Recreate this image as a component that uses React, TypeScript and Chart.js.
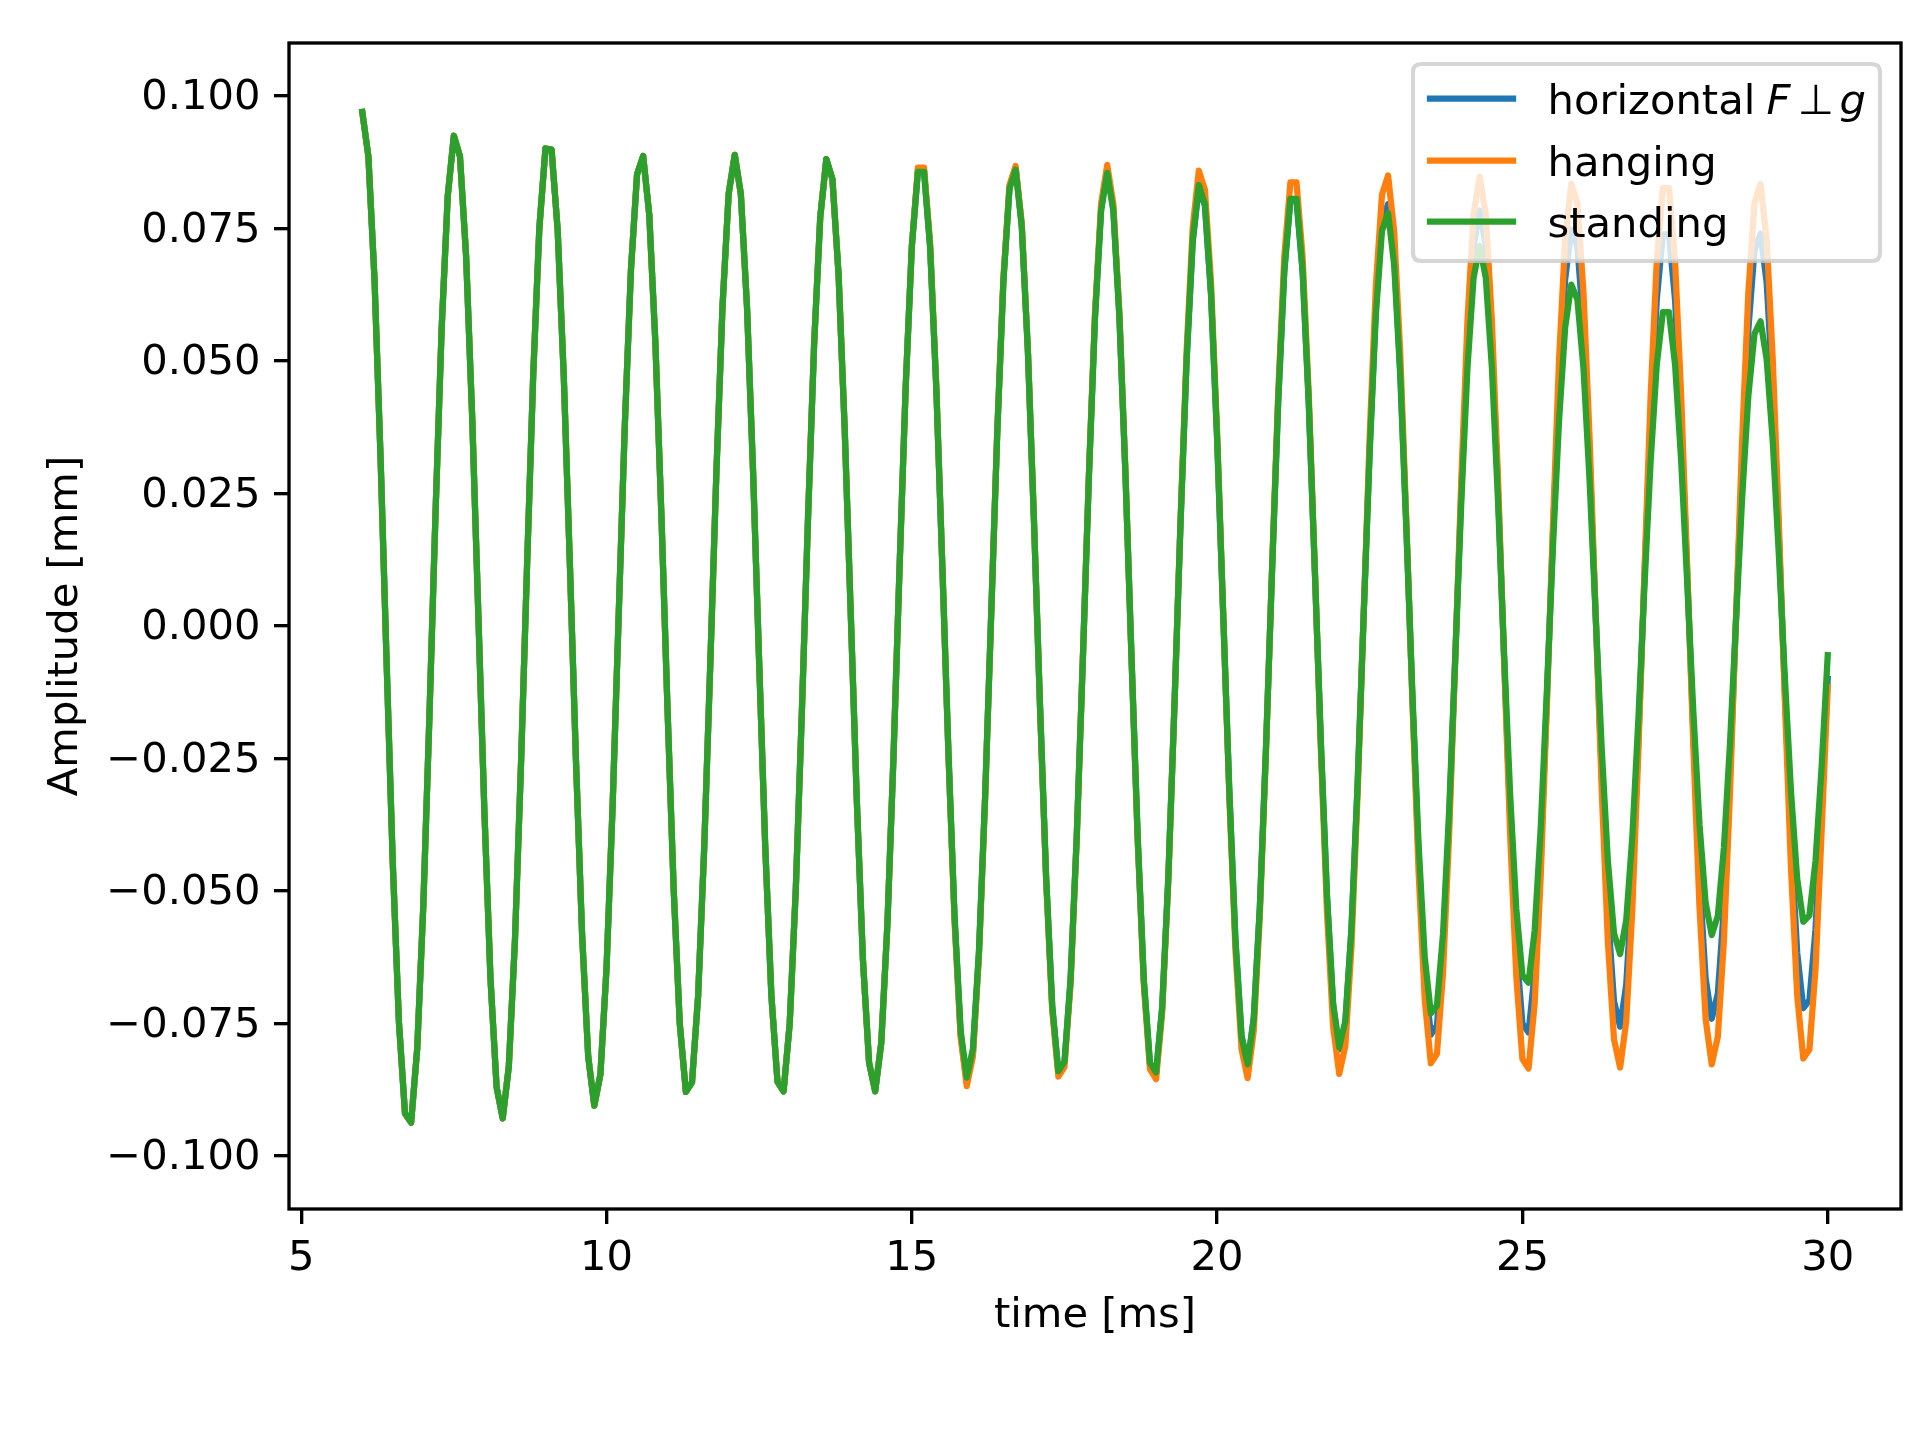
import { useEffect, useRef } from "react";
import { Chart, registerables } from "chart.js";

Chart.register(...registerables);

// time axis [ms], 0.1 ms sampling
const timeMs = [
  6.0, 6.1, 6.2, 6.3, 6.4, 6.5, 6.6, 6.7, 6.8, 6.9,
  7.0, 7.1, 7.2, 7.3, 7.4, 7.5, 7.6, 7.7, 7.8, 7.9,
  8.0, 8.1, 8.2, 8.3, 8.4, 8.5, 8.6, 8.7, 8.8, 8.9,
  9.0, 9.1, 9.2, 9.3, 9.4, 9.5, 9.6, 9.7, 9.8, 9.9,
  10.0, 10.1, 10.2, 10.3, 10.4, 10.5, 10.6, 10.7, 10.8, 10.9,
  11.0, 11.1, 11.2, 11.3, 11.4, 11.5, 11.6, 11.7, 11.8, 11.9,
  12.0, 12.1, 12.2, 12.3, 12.4, 12.5, 12.6, 12.7, 12.8, 12.9,
  13.0, 13.1, 13.2, 13.3, 13.4, 13.5, 13.6, 13.7, 13.8, 13.9,
  14.0, 14.1, 14.2, 14.3, 14.4, 14.5, 14.6, 14.7, 14.8, 14.9,
  15.0, 15.1, 15.2, 15.3, 15.4, 15.5, 15.6, 15.7, 15.8, 15.9,
  16.0, 16.1, 16.2, 16.3, 16.4, 16.5, 16.6, 16.7, 16.8, 16.9,
  17.0, 17.1, 17.2, 17.3, 17.4, 17.5, 17.6, 17.7, 17.8, 17.9,
  18.0, 18.1, 18.2, 18.3, 18.4, 18.5, 18.6, 18.7, 18.8, 18.9,
  19.0, 19.1, 19.2, 19.3, 19.4, 19.5, 19.6, 19.7, 19.8, 19.9,
  20.0, 20.1, 20.2, 20.3, 20.4, 20.5, 20.6, 20.7, 20.8, 20.9,
  21.0, 21.1, 21.2, 21.3, 21.4, 21.5, 21.6, 21.7, 21.8, 21.9,
  22.0, 22.1, 22.2, 22.3, 22.4, 22.5, 22.6, 22.7, 22.8, 22.9,
  23.0, 23.1, 23.2, 23.3, 23.4, 23.5, 23.6, 23.7, 23.8, 23.9,
  24.0, 24.1, 24.2, 24.3, 24.4, 24.5, 24.6, 24.7, 24.8, 24.9,
  25.0, 25.1, 25.2, 25.3, 25.4, 25.5, 25.6, 25.7, 25.8, 25.9,
  26.0, 26.1, 26.2, 26.3, 26.4, 26.5, 26.6, 26.7, 26.8, 26.9,
  27.0, 27.1, 27.2, 27.3, 27.4, 27.5, 27.6, 27.7, 27.8, 27.9,
  28.0, 28.1, 28.2, 28.3, 28.4, 28.5, 28.6, 28.7, 28.8, 28.9,
  29.0, 29.1, 29.2, 29.3, 29.4, 29.5, 29.6, 29.7, 29.8, 29.9,
  30.0,
];

// 6.0 .. 15.0 ms: the three measurements lie on top of each other
const earlyAll = [
  0.0970, 0.0886, 0.0655, 0.0316, -0.0074, -0.0449, -0.0747, -0.0920, -0.0937, -0.0797,
  -0.0526, -0.0169, 0.0215, 0.0561, 0.0812, 0.0925, 0.0886, 0.0699, 0.0394, 0.0024,
  -0.0350, -0.0666, -0.0870, -0.0929, -0.0831, -0.0594, -0.0259, 0.0119, 0.0475, 0.0751,
  0.0901, 0.0899, 0.0747, 0.0471, 0.0117, -0.0255, -0.0582, -0.0812, -0.0905, -0.0846,
  -0.0646, -0.0339, 0.0023, 0.0380, 0.0672, 0.0852, 0.0887, 0.0776, 0.0535, 0.0205,
  -0.0160, -0.0497, -0.0751, -0.0879, -0.0861, -0.0698, -0.0418, -0.0069, 0.0292, 0.0604,
  0.0815, 0.0889, 0.0815, 0.0604, 0.0292, -0.0069, -0.0418, -0.0697, -0.0860, -0.0878,
  -0.0750, -0.0496, -0.0159, 0.0204, 0.0532, 0.0771, 0.0881, 0.0843, 0.0664, 0.0374,
  0.0023, -0.0332, -0.0631, -0.0824, -0.0878, -0.0786, -0.0563, -0.0246, 0.0113, 0.0453,
  0.0716,
];

// 15.1 .. 30.0 ms
const horizontalLate = [
  0.0859, 0.0859, 0.0716, 0.0452, 0.0113, -0.0241, -0.0552, -0.0771, -0.0861, -0.0807,
  -0.0617, -0.0325, 0.0022, 0.0369, 0.0653, 0.0829, 0.0865, 0.0757, 0.0522, 0.0200,
  -0.0153, -0.0476, -0.0719, -0.0842, -0.0824, -0.0668, -0.0400, -0.0066, 0.0283, 0.0584,
  0.0788, 0.0860, 0.0788, 0.0584, 0.0283, -0.0066, -0.0402, -0.0670, -0.0827, -0.0845,
  -0.0721, -0.0477, -0.0153, 0.0191, 0.0499, 0.0724, 0.0828, 0.0793, 0.0625, 0.0353,
  0.0021, -0.0311, -0.0592, -0.0773, -0.0825, -0.0739, -0.0529, -0.0231, 0.0105, 0.0422,
  0.0668, 0.0803, 0.0803, 0.0668, 0.0422, 0.0105, -0.0224, -0.0512, -0.0716, -0.0799,
  -0.0749, -0.0573, -0.0301, 0.0021, 0.0339, 0.0601, 0.0762, 0.0796, 0.0696, 0.0480,
  0.0184, -0.0140, -0.0435, -0.0658, -0.0771, -0.0754, -0.0611, -0.0367, -0.0060, 0.0258,
  0.0532, 0.0718, 0.0784, 0.0718, 0.0532, 0.0258, -0.0060, -0.0365, -0.0608, -0.0750,
  -0.0767, -0.0655, -0.0433, -0.0139, 0.0173, 0.0451, 0.0654, 0.0748, 0.0716, 0.0565,
  0.0319, 0.0019, -0.0285, -0.0542, -0.0708, -0.0756, -0.0677, -0.0485, -0.0212, 0.0097,
  0.0389, 0.0615, 0.0739, 0.0739, 0.0615, 0.0389, 0.0097, -0.0207, -0.0475, -0.0664,
  -0.0741, -0.0694, -0.0531, -0.0280, 0.0019, 0.0315, 0.0559, 0.0709, 0.0740, 0.0648,
  0.0446, 0.0171, -0.0131, -0.0407, -0.0616, -0.0721, -0.0706, -0.0572, -0.0343, -0.0100,
];

const hangingLate = [
  0.0865, 0.0865, 0.0721, 0.0455, 0.0114, -0.0243, -0.0557, -0.0777, -0.0868, -0.0813,
  -0.0622, -0.0327, 0.0022, 0.0370, 0.0656, 0.0832, 0.0868, 0.0760, 0.0524, 0.0201,
  -0.0154, -0.0480, -0.0726, -0.0850, -0.0832, -0.0674, -0.0404, -0.0066, 0.0286, 0.0591,
  0.0797, 0.0870, 0.0797, 0.0591, 0.0286, -0.0067, -0.0407, -0.0678, -0.0836, -0.0855,
  -0.0730, -0.0483, -0.0155, 0.0198, 0.0518, 0.0752, 0.0859, 0.0823, 0.0649, 0.0366,
  0.0022, -0.0322, -0.0612, -0.0799, -0.0853, -0.0764, -0.0547, -0.0239, 0.0110, 0.0440,
  0.0697, 0.0837, 0.0837, 0.0697, 0.0440, 0.0110, -0.0236, -0.0542, -0.0757, -0.0845,
  -0.0792, -0.0606, -0.0319, 0.0022, 0.0363, 0.0642, 0.0814, 0.0850, 0.0744, 0.0513,
  0.0196, -0.0150, -0.0466, -0.0704, -0.0825, -0.0807, -0.0654, -0.0392, -0.0064, 0.0279,
  0.0576, 0.0777, 0.0848, 0.0777, 0.0576, 0.0279, -0.0065, -0.0397, -0.0662, -0.0817,
  -0.0835, -0.0713, -0.0472, -0.0152, 0.0192, 0.0503, 0.0729, 0.0834, 0.0798, 0.0629,
  0.0355, 0.0022, -0.0314, -0.0597, -0.0780, -0.0833, -0.0746, -0.0534, -0.0233, 0.0108,
  0.0434, 0.0688, 0.0826, 0.0826, 0.0688, 0.0434, 0.0108, -0.0231, -0.0530, -0.0741,
  -0.0827, -0.0775, -0.0593, -0.0312, 0.0022, 0.0355, 0.0629, 0.0798, 0.0834, 0.0729,
  0.0503, 0.0192, -0.0148, -0.0461, -0.0697, -0.0816, -0.0799, -0.0647, -0.0388, -0.0115,
];

const standingLate = [
  0.0857, 0.0857, 0.0713, 0.0450, 0.0112, -0.0238, -0.0546, -0.0763, -0.0852, -0.0798,
  -0.0611, -0.0321, 0.0022, 0.0367, 0.0650, 0.0825, 0.0861, 0.0754, 0.0520, 0.0199,
  -0.0152, -0.0474, -0.0717, -0.0840, -0.0822, -0.0666, -0.0400, -0.0066, 0.0281, 0.0581,
  0.0783, 0.0855, 0.0783, 0.0581, 0.0281, -0.0066, -0.0400, -0.0668, -0.0824, -0.0842,
  -0.0719, -0.0476, -0.0153, 0.0192, 0.0502, 0.0728, 0.0832, 0.0796, 0.0628, 0.0354,
  0.0021, -0.0312, -0.0593, -0.0775, -0.0827, -0.0741, -0.0530, -0.0231, 0.0106, 0.0424,
  0.0671, 0.0806, 0.0806, 0.0671, 0.0424, 0.0106, -0.0222, -0.0510, -0.0712, -0.0795,
  -0.0745, -0.0570, -0.0300, 0.0020, 0.0332, 0.0588, 0.0746, 0.0779, 0.0681, 0.0470,
  0.0180, -0.0133, -0.0413, -0.0624, -0.0731, -0.0716, -0.0580, -0.0348, -0.0057, 0.0236,
  0.0487, 0.0657, 0.0717, 0.0657, 0.0487, 0.0236, -0.0053, -0.0320, -0.0534, -0.0659,
  -0.0673, -0.0575, -0.0380, -0.0122, 0.0149, 0.0388, 0.0563, 0.0644, 0.0616, 0.0486,
  0.0274, 0.0017, -0.0234, -0.0444, -0.0580, -0.0619, -0.0555, -0.0397, -0.0173, 0.0078,
  0.0311, 0.0493, 0.0592, 0.0592, 0.0493, 0.0311, 0.0078, -0.0163, -0.0374, -0.0522,
  -0.0583, -0.0547, -0.0418, -0.0220, 0.0015, 0.0245, 0.0434, 0.0551, 0.0575, 0.0503,
  0.0347, 0.0133, -0.0101, -0.0315, -0.0477, -0.0558, -0.0546, -0.0443, -0.0266, -0.0055,
];

const xTicks = [5, 10, 15, 20, 25, 30];
const yTicks = [-0.1, -0.075, -0.05, -0.025, 0, 0.025, 0.05, 0.075, 0.1];

const seriesLabels = ["horizontal F \u22a5 g", "hanging", "standing"];
const seriesColors = ["#1f77b4", "#ff7f0e", "#2ca02c"];
const seriesValues = [
  [...earlyAll, ...horizontalLate],
  [...earlyAll, ...hangingLate],
  [...earlyAll, ...standingLate],
];

const FAMILY = "'DejaVu Sans'";
const FS = 41.67; // 10pt at 300 dpi
const LW = 6.25; // 1.5pt

const fmtY = (v: number) => {
  const s = Math.abs(v).toFixed(3);
  return v < -1e-9 ? "\u2212" + s : s;
};

// spines + matplotlib style legend, drawn above the lines
const framePlugin = {
  id: "mplFrame",
  afterDraw(chart: any) {
    const { ctx, chartArea: a } = chart;
    ctx.save();
    ctx.strokeStyle = "#000";
    ctx.lineWidth = 3.33;
    ctx.lineJoin = "miter";
    ctx.strokeRect(a.left, a.top, a.right - a.left, a.bottom - a.top);

    // legend box
    const bx = 1413, by = 64, bw = 467, bh = 197, r = 8.3;
    ctx.beginPath();
    ctx.moveTo(bx + r, by);
    ctx.lineTo(bx + bw - r, by);
    ctx.quadraticCurveTo(bx + bw, by, bx + bw, by + r);
    ctx.lineTo(bx + bw, by + bh - r);
    ctx.quadraticCurveTo(bx + bw, by + bh, bx + bw - r, by + bh);
    ctx.lineTo(bx + r, by + bh);
    ctx.quadraticCurveTo(bx, by + bh, bx, by + bh - r);
    ctx.lineTo(bx, by + r);
    ctx.quadraticCurveTo(bx, by, bx + r, by);
    ctx.closePath();
    ctx.fillStyle = "rgba(255,255,255,0.8)";
    ctx.fill();
    ctx.strokeStyle = "rgba(204,204,204,0.8)";
    ctx.lineWidth = 4.17;
    ctx.stroke();

    const rowY = [98.7, 160.7, 221.7];
    const textX = 1547.5;
    ctx.textBaseline = "alphabetic";
    ctx.textAlign = "left";
    ctx.fillStyle = "#000";
    rowY.forEach((y, i) => {
      ctx.beginPath();
      ctx.strokeStyle = seriesColors[i];
      ctx.lineWidth = LW;
      ctx.lineCap = "square";
      ctx.moveTo(1430, y);
      ctx.lineTo(1513, y);
      ctx.stroke();

      const base = y + 15;
      ctx.font = `${FS}px ${FAMILY}`;
      if (i === 0) {
        ctx.fillText("horizontal", textX, base);
        ctx.font = `italic ${FS}px ${FAMILY}`;
        ctx.fillText("F", textX + 219, base);
        ctx.font = `${FS}px ${FAMILY}`;
        ctx.fillText("\u22a5", textX + 250, base);
        ctx.font = `italic ${FS}px ${FAMILY}`;
        ctx.fillText("g", textX + 292, base);
      } else {
        ctx.fillText(seriesLabels[i], textX, base);
      }
    });
    ctx.restore();
  },
};

export default function App() {
  const canvasRef = useRef<HTMLCanvasElement | null>(null);

  useEffect(() => {
    const ctx = canvasRef.current?.getContext("2d");
    if (!ctx) return;

    const tickFont = { family: FAMILY, size: FS };

    const chart = new Chart(ctx, {
      type: "line",
      data: {
        datasets: seriesValues.map((vals, i) => ({
          label: seriesLabels[i],
          data: timeMs.map((t, k) => ({ x: t, y: vals[k] })),
          borderColor: seriesColors[i],
          backgroundColor: seriesColors[i],
          borderWidth: LW,
          borderJoinStyle: "round" as const,
          borderCapStyle: "square" as const,
          pointRadius: 0,
          tension: 0,
          fill: false,
          order: 3 - i, // green drawn on top, like matplotlib
        })),
      },
      options: {
        animation: false,
        responsive: false,
        devicePixelRatio: 1,
        layout: { padding: { left: 0, top: 43, right: 19, bottom: 0 } },
        plugins: {
          legend: { display: false },
          tooltip: { enabled: false },
        },
        scales: {
          x: {
            type: "linear",
            min: 4.8,
            max: 31.2,
            afterBuildTicks: (scale: any) => {
              scale.ticks = xTicks.map((v) => ({ value: v }));
            },
            afterFit: (scale: any) => {
              scale.height = 231;
            },
            border: { display: false },
            grid: {
              drawOnChartArea: false,
              drawTicks: true,
              tickLength: 15,
              tickWidth: 3.33,
              tickColor: "#000",
              lineWidth: 3.33,
              color: "#000",
            },
            ticks: {
              color: "#000",
              font: tickFont,
              padding: 10,
              maxRotation: 0,
              autoSkip: false,
              callback: (v: any) => String(v),
            },
            title: {
              display: true,
              text: "time [ms]",
              color: "#000",
              font: tickFont,
              padding: { top: 0, bottom: 99 },
            },
          },
          y: {
            type: "linear",
            min: -0.11,
            max: 0.11,
            afterBuildTicks: (scale: any) => {
              scale.ticks = yTicks.map((v) => ({ value: v }));
            },
            afterFit: (scale: any) => {
              scale.width = 289;
            },
            border: { display: false },
            grid: {
              drawOnChartArea: false,
              drawTicks: true,
              tickLength: 15,
              tickWidth: 3.33,
              tickColor: "#000",
              lineWidth: 3.33,
              color: "#000",
            },
            ticks: {
              color: "#000",
              font: tickFont,
              padding: 13.5,
              labelOffset: 2.5,
              autoSkip: false,
              callback: (v: any) => fmtY(Number(v)),
            },
            title: {
              display: true,
              text: "Amplitude [mm]",
              color: "#000",
              font: tickFont,
              padding: { top: 41, bottom: 0 },
            },
          },
        },
      },
      plugins: [framePlugin],
    });

    return () => {
      chart.destroy();
    };
  }, []);

  return (
    <div
      style={{
        position: "absolute",
        left: 0,
        top: 0,
        width: 1920,
        height: 1440,
        background: "#fff",
      }}
    >
      <canvas
        ref={canvasRef}
        width={1920}
        height={1440}
        style={{ display: "block", width: 1920, height: 1440 }}
      ></canvas>
    </div>
  );
}
